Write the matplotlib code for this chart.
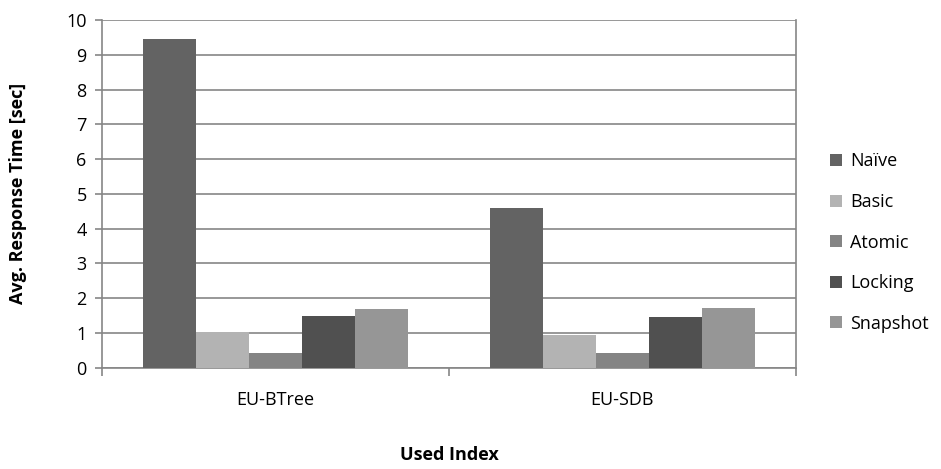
import matplotlib.pyplot as plt
import numpy as np

plt.rcParams['font.family'] = ['Open Sans', 'DejaVu Sans']

# Average response time per index and strategy
indexes = ['EU-BTree', 'EU-SDB']
strategies = ['Naïve', 'Basic', 'Atomic', 'Locking', 'Snapshot']
naive = [9.44, 4.58]
basic = [1.02, 0.94]
atomic = [0.43, 0.43]
locking = [1.49, 1.47]
snapshot = [1.68, 1.71]
colors = ['#636363', '#b3b3b3', '#848484', '#505050', '#969696']

series = [naive, basic, atomic, locking, snapshot]

fig = plt.figure(figsize=(9.41, 4.69), dpi=100)
ax = fig.add_axes([102 / 941, 1 - 367.7 / 469, 694 / 941, 347.7 / 469])

x = np.arange(len(indexes))
width = 0.153
for i, (vals, name, c) in enumerate(zip(series, strategies, colors)):
    ax.bar(x + (i - 2) * width, vals, width, color=c, label=name, zorder=3)

ax.set_xlim(-0.5, 1.5)
ax.set_ylim(0, 10)
ax.set_yticks(range(0, 11))
ax.yaxis.grid(True, color='#868686', linewidth=1.2, zorder=0)

# category ticks at the group boundaries, labels centred under each group
ax.set_xticks([-0.5, 0.5, 1.5])
ax.set_xticklabels([])
ax.set_xticks(x, minor=True)
ax.set_xticklabels(indexes, minor=True)
ax.tick_params(axis='x', which='minor', length=0, pad=17, labelsize=13)
ax.tick_params(axis='x', which='major', length=6, color='#868686', width=1.2)
ax.tick_params(axis='y', length=5, color='#868686', width=1.2, labelsize=13, pad=6)

ax.spines['top'].set_visible(False)
for side in ['left', 'bottom', 'right']:
    ax.spines[side].set_color('#868686')
    ax.spines[side].set_linewidth(1.2)

ax.set_ylabel('Avg. Response Time [sec]', fontsize=13, fontweight='bold')
ax.set_xlabel('Used Index', fontsize=13, fontweight='bold')
ax.yaxis.set_label_coords(-0.121, 0.5)
ax.xaxis.set_label_coords(0.5, -0.251)
ax.xaxis.label.set_va('center')
ax.yaxis.label.set_va('center')

ax.legend(loc='center left', bbox_to_anchor=(1.026, 0.36), frameon=False,
          fontsize=13, handlelength=0.65, handleheight=0.65, handletextpad=0.45,
          labelspacing=1.25)

fig.savefig('out.png', dpi=100)
